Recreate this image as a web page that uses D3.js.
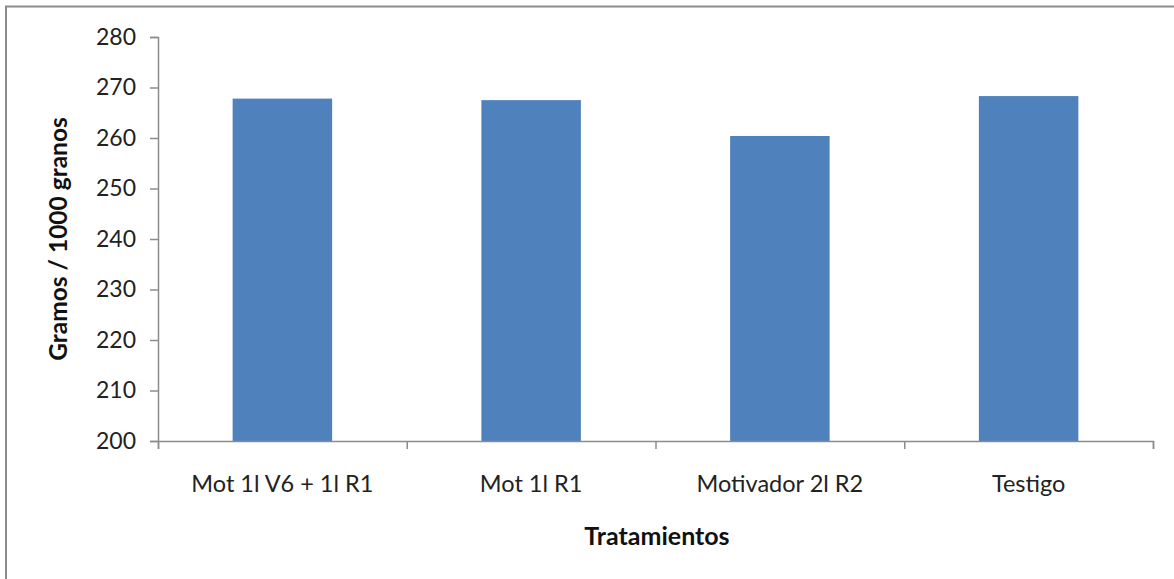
<!DOCTYPE html>
<html>
<head>
<meta charset="utf-8">
<script src="https://cdn.jsdelivr.net/npm/d3@7"></script>
<style>
  body { margin: 0; background: #fff; }
  svg { display: block; font-family: Lato, "Open Sans", sans-serif; }
</style>
</head>
<body>
<div id="chart"></div>
<script>
const categories = ["Mot 1l V6 + 1l R1", "Mot 1l R1", "Motivador 2l R2", "Testigo"];
const values = [267.8, 267.5, 260.4, 268.3];
const yTicks = [200, 210, 220, 230, 240, 250, 260, 270, 280];

const width = 1174, height = 579;
const plot = {left: 158, right: 1153, top: 37, bottom: 441};
const font = "Lato, 'Open Sans', sans-serif";

const svg = d3.select("#chart").append("svg")
      .attr("width", width)
      .attr("height", height);

// outer chart frame (runs off the right and bottom of the picture)
svg.append("rect")
      .attr("x", 6).attr("y", 6.5)
      .attr("width", 1200).attr("height", 600)
      .attr("fill", "none")
      .attr("stroke", "#8c8c8c")
      .attr("stroke-width", 2);

const x = d3.scaleBand()
      .domain(categories)
      .range([plot.left, plot.right])
      .paddingInner(0.6)
      .paddingOuter(0.3);

const xEdges = d3.scaleLinear()
      .domain([0, categories.length])
      .range([plot.left, plot.right]);

const y = d3.scaleLinear()
      .domain([200, 280])
      .range([plot.bottom, plot.top]);

svg.selectAll("rect.bar")
      .data(values)
      .join("rect")
      .attr("class", "bar")
      .attr("x", (d, i) => x(categories[i]))
      .attr("width", x.bandwidth())
      .attr("y", d => y(d))
      .attr("height", d => y(200) - y(d))
      .attr("fill", "#4f81bd");

// y axis
const yAxis = svg.append("g")
      .attr("transform", `translate(${plot.left},0)`)
      .call(d3.axisLeft(y).tickValues(yTicks).tickSize(8).tickPadding(14))
      .attr("font-family", font);
yAxis.select(".domain").attr("stroke", "#8c8c8c").attr("stroke-width", 1.5);
yAxis.selectAll(".tick line").attr("stroke", "#8c8c8c").attr("stroke-width", 1.5);
yAxis.selectAll(".tick text").attr("font-size", 23).attr("fill", "#222");

// x axis: line plus ticks at category boundaries
const xAxis = svg.append("g")
      .attr("transform", `translate(0,${plot.bottom})`)
      .call(d3.axisBottom(xEdges).ticks(categories.length).tickSize(8).tickFormat(""));
xAxis.select(".domain").attr("stroke", "#8c8c8c").attr("stroke-width", 1.5);
xAxis.selectAll(".tick line").attr("stroke", "#8c8c8c").attr("stroke-width", 1.5);

svg.append("g").selectAll("text")
      .data(categories)
      .join("text")
      .attr("x", d => x(d) + x.bandwidth() / 2)
      .attr("y", 492)
      .attr("text-anchor", "middle")
      .attr("font-size", 23.5)
      .attr("fill", "#222")
      .text(d => d);

svg.append("text")
      .attr("x", 657)
      .attr("y", 545)
      .attr("text-anchor", "middle")
      .attr("font-size", 25)
      .attr("font-weight", "bold")
      .attr("fill", "#111")
      .text("Tratamientos");

svg.append("text")
      .attr("transform", "translate(67,239) rotate(-90)")
      .attr("text-anchor", "middle")
      .attr("font-size", 24.5)
      .attr("font-weight", "bold")
      .attr("fill", "#111")
      .text("Gramos / 1000 granos");
</script>
</body>
</html>
